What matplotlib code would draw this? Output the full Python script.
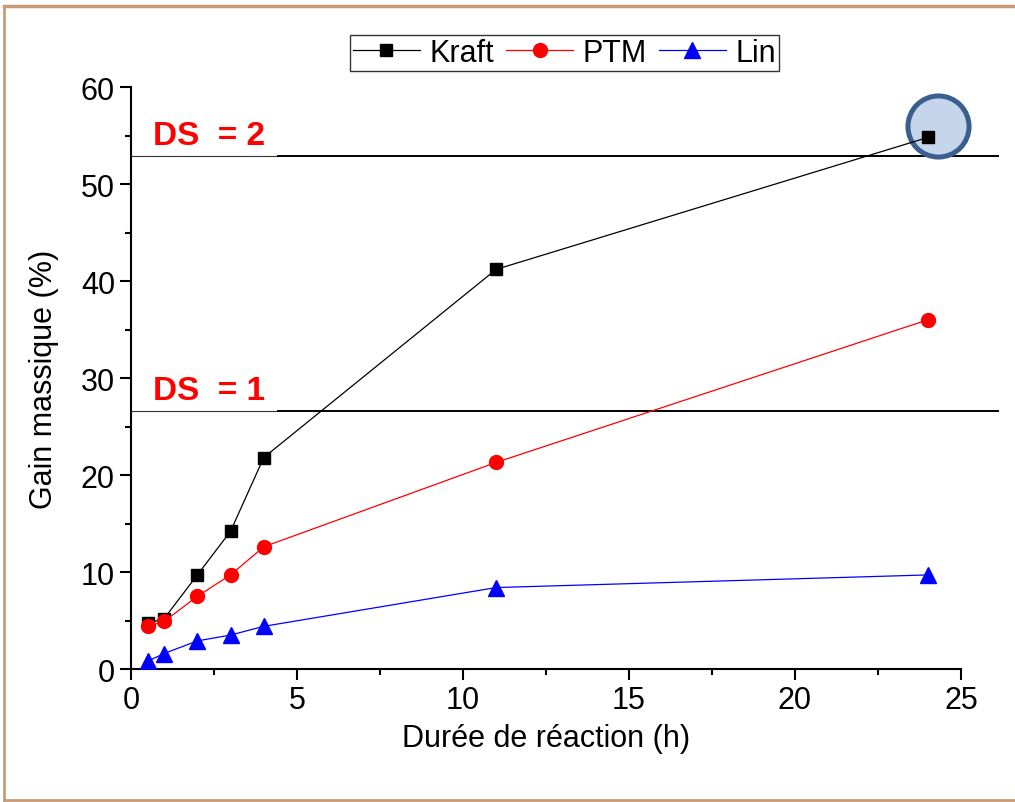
import matplotlib.pyplot as plt
from matplotlib.lines import Line2D

plt.rcParams['font.family'] = ['Liberation Sans', 'DejaVu Sans']

# reaction time (h)
duree = [0.5, 1, 2, 3, 4, 11, 24]

# mass gain (%) for each pulp
kraft = [4.7, 5.2, 9.7, 14.2, 21.8, 41.2, 54.8]
ptm = [4.4, 4.9, 7.5, 9.7, 12.6, 21.3, 36.0]
lin = [0.8, 1.6, 2.9, 3.5, 4.4, 8.4, 9.7]

# degree of substitution reference levels
ds_labels = ['DS  = 1', 'DS  = 2']
ds_levels = [26.6, 52.9]

fig = plt.figure(figsize=(10.15, 8.03), dpi=100)
ax = fig.add_axes([0.129, 0.1656, 0.8178, 0.7248])

ax.plot(duree, kraft, color='black', lw=0.9, marker='s', ms=9, label='Kraft', zorder=3)
ax.plot(duree, ptm, color='red', lw=0.9, marker='o', ms=10, label='PTM', zorder=3)
ax.plot(duree, lin, color='blue', lw=0.9, marker='^', ms=11, label='Lin', zorder=3)

# DS lines, lighter under the label then full black out past the axes
for lab, lev in zip(ds_labels, ds_levels):
    ax.plot([0, 4.43], [lev, lev], color='#333333', lw=0.8, clip_on=False)
    ax.plot([4.43, 26.1], [lev, lev], color='black', lw=1.4, clip_on=False)
    ax.text(0.65, lev + 0.5, lab, color='red', fontsize=24, fontweight='bold',
            ha='left', va='bottom')

# highlight ring on the last Kraft point
ax.plot(duree[-1] + 0.3, kraft[-1] + 1.2, marker='o', ms=44,
        mfc='#c5d5ea', mec='#3a5f8f', mew=3.6, zorder=2, clip_on=False)

ax.set_xlim(0, 25)
ax.set_ylim(0, 60)
ax.set_xticks([0, 5, 10, 15, 20, 25])
ax.set_xticks([2.5, 7.5, 12.5, 17.5, 22.5], minor=True)
ax.set_yticks([0, 10, 20, 30, 40, 50, 60])
ax.set_yticks([5, 15, 25, 35, 45, 55], minor=True)
ax.tick_params(which='major', direction='out', length=8, width=1.5, labelsize=22)
ax.tick_params(which='minor', direction='out', length=4, width=1.5)
for s in ['top', 'right']:
    ax.spines[s].set_visible(False)
for s in ['left', 'bottom']:
    ax.spines[s].set_linewidth(1.5)

ax.set_xlabel('Durée de réaction (h)', fontsize=22, labelpad=6)
ax.set_ylabel('Gain massique (%)', fontsize=22, labelpad=16)

leg = fig.legend(loc='center', bbox_to_anchor=(0.556, 0.933), ncol=3,
                 fontsize=22, fancybox=False, edgecolor='black',
                 handlelength=2.2, handletextpad=0.3, columnspacing=0.4,
                 borderpad=0.1, borderaxespad=0)
leg.get_frame().set_linewidth(1.0)

# outer frame
tan = '#c89c78'
fig.add_artist(Line2D([0.004, 1.0], [0.9915, 0.9915], color=tan, lw=2.5))
fig.add_artist(Line2D([0.004, 0.004], [0.001, 0.9915], color=tan, lw=2))
fig.add_artist(Line2D([0.004, 1.0], [0.002, 0.002], color=tan, lw=2))

fig.savefig('out.png', dpi=100)
